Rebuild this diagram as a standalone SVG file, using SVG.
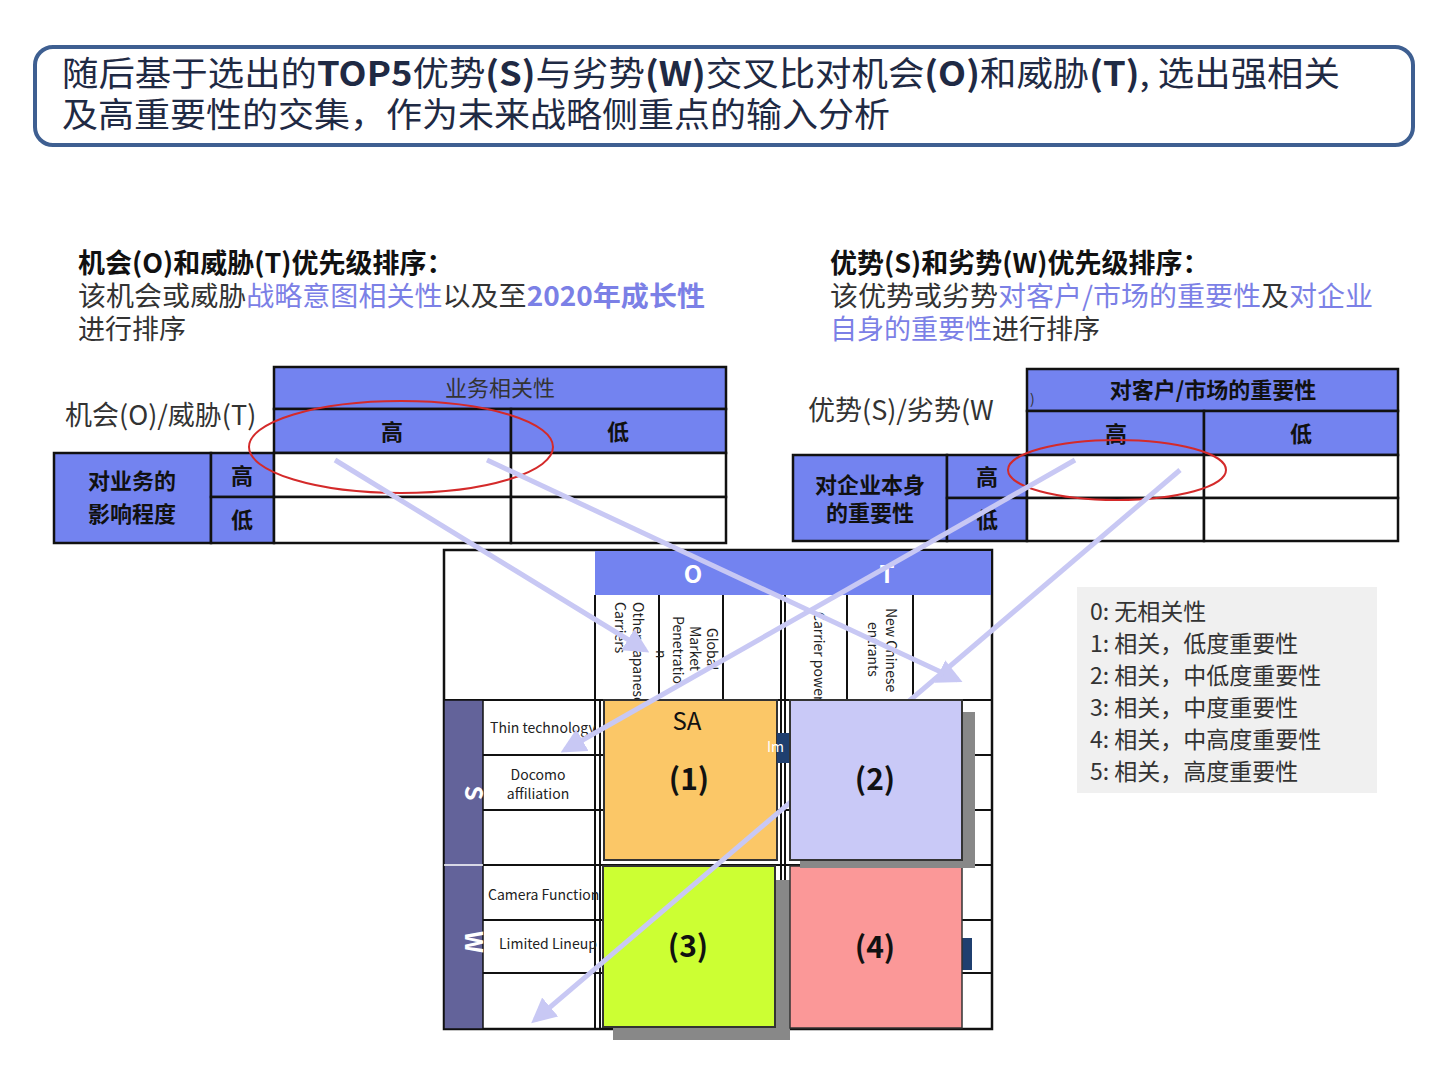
<svg xmlns="http://www.w3.org/2000/svg" width="1440" height="1080" viewBox="0 0 1440 1080">
<defs>
<style>
text{font-family:"Noto Sans CJK SC","Open Sans",sans-serif;}
.hd{fill:#7383f0;stroke:#111;stroke-width:2.5}
.cell{fill:#fff;stroke:#111;stroke-width:2.5}
.ln{stroke:#111;stroke-width:2}
.hl{fill:#7b80e6}
.col{font-size:14px;fill:#222}
.arr{stroke:#c8c8f4;stroke-width:5;fill:none;marker-end:url(#ah)}
.num{font-size:30px;font-weight:bold;fill:#111;text-anchor:middle}
.leg{font-size:23px;fill:#333}
</style>
<marker id="ah" viewBox="0 0 10 10" refX="8" refY="5" markerWidth="5" markerHeight="5" orient="auto"><path d="M0,0L10,5L0,10z" fill="#c8c8f4"/></marker>
</defs>
<rect width="1440" height="1080" fill="#fff"/>
<g id="title">
<rect x="35" y="47" width="1378" height="98" rx="18" fill="#fff" stroke="#3e5f91" stroke-width="4"/>
<text x="62" y="86" font-size="34" fill="#1f2a44" textLength="1278" lengthAdjust="spacingAndGlyphs">随后基于选出的<tspan font-weight="bold">TOP5</tspan>优势<tspan font-weight="bold">(S)</tspan>与劣势<tspan font-weight="bold">(W)</tspan>交叉比对机会<tspan font-weight="bold">(O)</tspan>和威胁<tspan font-weight="bold">(T)</tspan>, 选出强相关</text>
<text x="62" y="127" font-size="34" fill="#1f2a44" textLength="828" lengthAdjust="spacingAndGlyphs">及高重要性的交集，作为未来战略侧重点的输入分析</text>
</g>
<g id="left-heading">
<text x="78" y="273" font-size="27" font-weight="bold" fill="#111">机会(O)和威胁(T)优先级排序：</text>
<text x="78" y="306" font-size="27" fill="#333" textLength="627" lengthAdjust="spacingAndGlyphs">该机会或威胁<tspan class="hl">战略意图相关性</tspan>以及至<tspan class="hl" font-weight="bold">2020年成长性</tspan></text>
<text x="78" y="339" font-size="27" fill="#333">进行排序</text>
</g>
<g id="left-table">
<text x="65" y="425" font-size="27" fill="#333">机会(O)/威胁(T)</text>
<rect class="hd" x="274" y="367" width="452" height="42"/>
<text x="500" y="396" font-size="22" fill="#333" text-anchor="middle">业务相关性</text>
<rect class="hd" x="274" y="409" width="237" height="44"/>
<rect class="hd" x="511" y="409" width="215" height="44"/>
<text x="392" y="440" font-size="22" font-weight="bold" fill="#111" text-anchor="middle">高</text>
<text x="618" y="440" font-size="22" font-weight="bold" fill="#111" text-anchor="middle">低</text>
<rect class="hd" x="54" y="453" width="157" height="90"/>
<text x="132" y="489" font-size="22" font-weight="bold" fill="#111" text-anchor="middle">对业务的</text>
<text x="132" y="522" font-size="22" font-weight="bold" fill="#111" text-anchor="middle">影响程度</text>
<rect class="hd" x="211" y="453" width="63" height="44"/>
<rect class="hd" x="211" y="497" width="63" height="46"/>
<text x="242" y="484" font-size="22" font-weight="bold" fill="#111" text-anchor="middle">高</text>
<text x="242" y="528" font-size="22" font-weight="bold" fill="#111" text-anchor="middle">低</text>
<rect class="cell" x="274" y="453" width="237" height="44"/>
<rect class="cell" x="511" y="453" width="215" height="44"/>
<rect class="cell" x="274" y="497" width="237" height="46"/>
<rect class="cell" x="511" y="497" width="215" height="46"/>
</g>
<g id="right-heading">
<text x="830" y="273" font-size="27" font-weight="bold" fill="#111">优势(S)和劣势(W)优先级排序：</text>
<text x="830" y="306" font-size="27" fill="#333" textLength="543" lengthAdjust="spacingAndGlyphs">该优势或劣势<tspan class="hl">对客户/市场的重要性</tspan>及<tspan class="hl">对企业</tspan></text>
<text x="830" y="339" font-size="27" fill="#333"><tspan class="hl">自身的重要性</tspan>进行排序</text>
</g>
<g id="right-table">
<text x="808" y="420" font-size="27" fill="#333">优势(S)/劣势(W</text>
<rect class="hd" x="1027" y="369" width="371" height="42"/>
<text x="1030" y="404" font-size="14" fill="#333">)</text>
<text x="1213" y="398" font-size="22" font-weight="bold" fill="#111" text-anchor="middle">对客户/市场的重要性</text>
<rect class="hd" x="1027" y="411" width="177" height="44"/>
<rect class="hd" x="1204" y="411" width="194" height="44"/>
<text x="1116" y="442" font-size="22" font-weight="bold" fill="#111" text-anchor="middle">高</text>
<text x="1301" y="442" font-size="22" font-weight="bold" fill="#111" text-anchor="middle">低</text>
<rect class="hd" x="793" y="455" width="154" height="86"/>
<text x="870" y="493" font-size="22" font-weight="bold" fill="#111" text-anchor="middle">对企业本身</text>
<text x="870" y="521" font-size="22" font-weight="bold" fill="#111" text-anchor="middle">的重要性</text>
<rect class="hd" x="947" y="455" width="80" height="43"/>
<rect class="hd" x="947" y="498" width="80" height="43"/>
<text x="987" y="485" font-size="22" font-weight="bold" fill="#111" text-anchor="middle">高</text>
<text x="987" y="528" font-size="22" font-weight="bold" fill="#111" text-anchor="middle">低</text>
<rect class="cell" x="1027" y="455" width="177" height="43"/>
<rect class="cell" x="1204" y="455" width="194" height="43"/>
<rect class="cell" x="1027" y="498" width="177" height="43"/>
<rect class="cell" x="1204" y="498" width="194" height="43"/>
</g>
<g id="ellipses" fill="none" stroke="#d42a2a" stroke-width="2">
<ellipse cx="401" cy="447" rx="152" ry="46"/>
<ellipse cx="1117" cy="470" rx="109" ry="30"/>
</g>
<g id="legend">
<rect x="1077" y="587" width="300" height="206" fill="#f0f0f0"/>
<text class="leg" x="1090" y="620">0: 无相关性</text>
<text class="leg" x="1090" y="652">1: 相关，低度重要性</text>
<text class="leg" x="1090" y="684">2: 相关，中低度重要性</text>
<text class="leg" x="1090" y="716">3: 相关，中度重要性</text>
<text class="leg" x="1090" y="748">4: 相关，中高度重要性</text>
<text class="leg" x="1090" y="780">5: 相关，高度重要性</text>
</g>
<g id="matrix">
<rect x="444" y="550" width="548" height="479" fill="#fff" stroke="#111" stroke-width="2.5"/>
<rect x="595" y="551" width="396" height="44" fill="#7383f0"/>
<text x="693" y="583" font-size="24" font-weight="bold" fill="#fff" text-anchor="middle">O</text>
<text x="887" y="583" font-size="24" font-weight="bold" fill="#fff" text-anchor="middle">T</text>
<g class="ln">
<line x1="595" y1="595" x2="595" y2="1029"/><line x1="600" y1="700" x2="600" y2="1029"/>
<line x1="659" y1="595" x2="659" y2="700"/><line x1="723" y1="595" x2="723" y2="700"/>
<line x1="781" y1="595" x2="781" y2="1029"/><line x1="785" y1="595" x2="785" y2="1029"/>
<line x1="847" y1="595" x2="847" y2="700"/><line x1="913" y1="595" x2="913" y2="700"/>
<line x1="444" y1="700" x2="992" y2="700"/>
<line x1="483" y1="755" x2="992" y2="755"/><line x1="483" y1="810" x2="992" y2="810"/>
<line x1="444" y1="865" x2="992" y2="865"/>
<line x1="483" y1="920" x2="992" y2="920"/><line x1="483" y1="973" x2="992" y2="973"/>
</g>
<rect x="444" y="700" width="39" height="329" fill="#63639a" stroke="#111" stroke-width="1.5"/>
<line x1="444" y1="865" x2="483" y2="865" stroke="#fff" stroke-width="1.5"/>
<text transform="translate(465,793) rotate(90)" font-size="24" font-weight="bold" fill="#fff" text-anchor="middle">S</text>
<text transform="translate(465,942) rotate(90)" font-size="24" font-weight="bold" fill="#fff" text-anchor="middle">W</text>
<text class="col" transform="translate(633,602) rotate(90)">Other Japanese</text>
<text class="col" transform="translate(615,602) rotate(90)">Carriers</text>
<text class="col" transform="translate(707,628) rotate(90)">Global</text>
<text class="col" transform="translate(690,626) rotate(90)">Market</text>
<text class="col" transform="translate(673,616) rotate(90)">Penetratio</text>
<text class="col" transform="translate(656,650) rotate(90)">n</text>
<text class="col" transform="translate(814,612) rotate(90)">Carrier power</text>
<text class="col" transform="translate(886,608) rotate(90)">New Chinese</text>
<text class="col" transform="translate(868,622) rotate(90)">entrants</text>
<text class="col" x="490" y="733">Thin technology</text>
<text class="col" x="538" y="780" text-anchor="middle">Docomo</text>
<text class="col" x="538" y="799" text-anchor="middle">affiliation</text>
<text class="col" x="488" y="900">Camera Function</text>
<text class="col" x="499" y="949">Limited Lineup</text>
</g>
<g id="box1">
<rect x="604" y="700" width="173" height="160" fill="#fbc767" stroke="#333" stroke-width="2"/>
<text x="687" y="730" font-size="24" fill="#111" text-anchor="middle">SA</text>
<text class="num" x="689" y="790">(1)</text>
<rect x="777" y="733" width="13" height="30" fill="#1f3f6f"/>
<text x="767" y="752" font-size="14" fill="#fff">Im</text>
</g>
<g id="box3">
<rect x="613" y="880" width="177" height="160" fill="#888"/>
<rect x="603" y="866" width="172" height="161" fill="#ccff33" stroke="#333" stroke-width="2"/>
<text class="num" x="688" y="957">(3)</text>
</g>
<g id="box4">
<rect x="962" y="938" width="10" height="32" fill="#1f3f6f"/>
<rect x="790" y="866" width="172" height="162" fill="#fb9898" stroke="#333" stroke-width="1.5"/>
<text class="num" x="875" y="958">(4)</text>
</g>
<g id="connectors">
<line class="arr" x1="335" y1="460" x2="645" y2="650"/>
<line class="arr" x1="487" y1="460" x2="958" y2="680"/>
<line class="arr" x1="1075" y1="460" x2="565" y2="750"/>
<line class="arr" x1="1180" y1="470" x2="535" y2="1020"/>
</g>
<g id="box2">
<rect x="800" y="712" width="175" height="156" fill="#888"/>
<rect x="790" y="700" width="172" height="160" fill="#c9c9f7" stroke="#333" stroke-width="2"/>
<text class="num" x="875" y="790">(2)</text>
</g>
</svg>
